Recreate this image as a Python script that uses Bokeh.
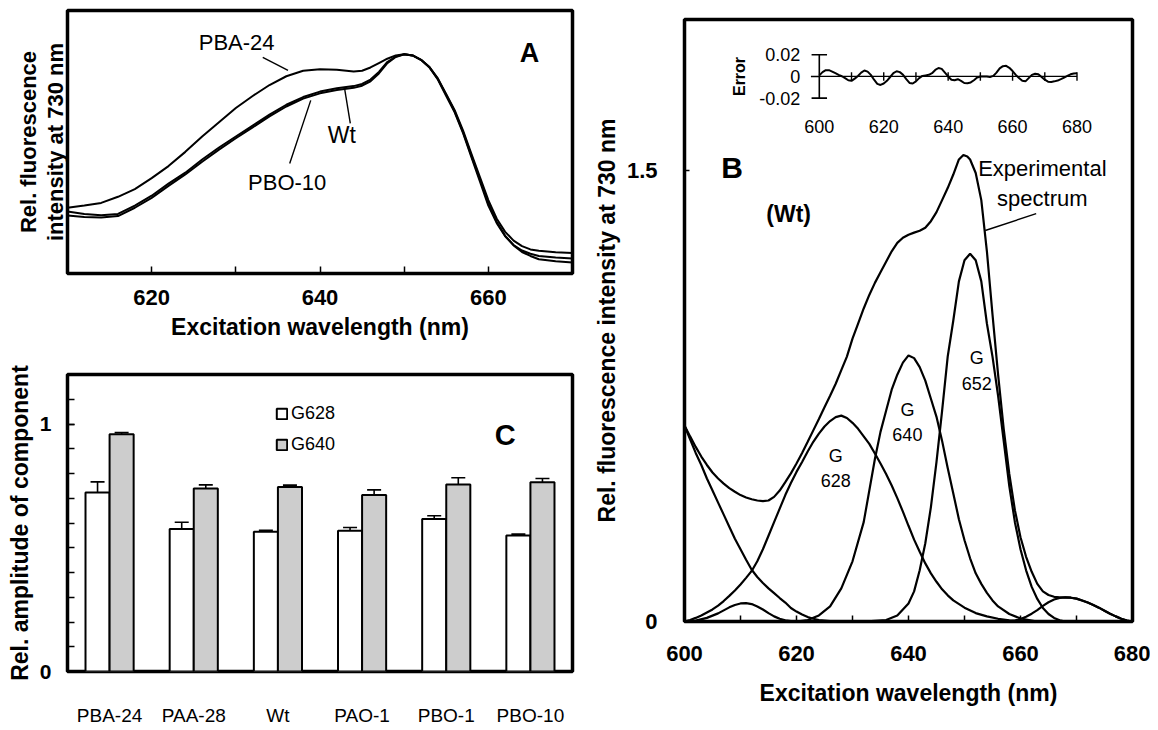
import math
from bokeh.plotting import figure
from bokeh.models import (FixedTicker, Range1d, Legend, LegendItem, Whisker, TeeHead,
                          ColumnDataSource, Title)
from bokeh.layouts import row, column
from bokeh.embed import file_html
from bokeh.resources import INLINE
from bokeh.core.properties import value

FONT = "Liberation Sans"

# ---------------- Panel A data ----------------
a_wl = [610, 612, 614, 616, 618, 620, 622, 624, 626, 628, 630, 632, 634, 636, 638, 640,
        642, 644, 645, 646, 647, 648, 649, 650, 651, 652, 653, 654, 655, 656, 657, 658,
        659, 660, 661, 662, 663, 664, 665, 666, 668, 670]
a_pba24 = [0.30, 0.31, 0.322, 0.35, 0.385, 0.435, 0.49, 0.555, 0.625, 0.69, 0.755, 0.81,
           0.86, 0.90, 0.925, 0.932, 0.93, 0.922, 0.925, 0.94, 0.96, 0.98, 0.995, 1.0,
           0.995, 0.975, 0.942, 0.89, 0.818, 0.745, 0.652, 0.545, 0.44, 0.335, 0.25,
           0.19, 0.15, 0.125, 0.11, 0.104, 0.097, 0.093]
a_wt = [0.283, 0.272, 0.266, 0.272, 0.31, 0.355, 0.41, 0.46, 0.52, 0.575, 0.625, 0.675,
        0.725, 0.77, 0.805, 0.83, 0.845, 0.855, 0.865, 0.885, 0.92, 0.965, 0.99, 1.0,
        0.995, 0.975, 0.94, 0.885, 0.81, 0.735, 0.64, 0.53, 0.42, 0.31, 0.23, 0.17,
        0.13, 0.105, 0.09, 0.08, 0.073, 0.068]
a_pbo10 = [0.265, 0.258, 0.255, 0.262, 0.30, 0.345, 0.40, 0.452, 0.51, 0.565, 0.617,
           0.667, 0.717, 0.762, 0.798, 0.822, 0.837, 0.847, 0.857, 0.877, 0.913, 0.96,
           0.988, 1.0, 0.995, 0.975, 0.942, 0.888, 0.815, 0.74, 0.645, 0.537, 0.43,
           0.32, 0.235, 0.172, 0.128, 0.098, 0.08, 0.065, 0.056, 0.05]
a_ylabel_lines = ["Rel. fluorescence", "intensity at 730 nm"]

# ---------------- Panel B data ----------------
b_exp_wl = [600, 601, 602, 603, 604, 605, 606, 607, 608, 609, 610, 611, 612, 613, 614,
            615, 616, 617, 618, 619, 620, 621, 622, 623, 624, 625, 626, 627, 628, 629,
            630, 631, 632, 633, 634, 635, 636, 637, 638, 639, 640, 641, 642, 643, 644,
            645, 646, 647, 648, 649, 649.8, 650.5, 651, 652, 653, 654, 655, 656, 657,
            658, 659, 660, 661, 662, 663, 664, 665, 666, 667, 668, 669, 670, 671, 672,
            673, 674, 675, 676, 677, 678, 679, 680]
b_exp = [0.651, 0.615, 0.58, 0.548, 0.52, 0.495, 0.475, 0.458, 0.443, 0.431, 0.42, 0.412,
         0.406, 0.402, 0.40, 0.402, 0.414, 0.435, 0.463, 0.492, 0.525, 0.56, 0.597, 0.635,
         0.673, 0.712, 0.75, 0.79, 0.835, 0.88, 0.94, 0.99, 1.04, 1.085, 1.125, 1.16,
         1.195, 1.23, 1.258, 1.275, 1.285, 1.292, 1.298, 1.308, 1.33, 1.36, 1.40, 1.44,
         1.485, 1.535, 1.55, 1.545, 1.535, 1.49, 1.40, 1.23, 1.02, 0.82, 0.64, 0.49,
         0.37, 0.28, 0.215, 0.165, 0.125, 0.10, 0.088, 0.082, 0.08, 0.08, 0.079, 0.076,
         0.07, 0.063, 0.055, 0.046, 0.036, 0.026, 0.017, 0.009, 0.003, 0.0]

b_left_wl = [600, 601, 602, 603, 604, 605, 606, 607, 608, 609, 610, 611, 612, 613, 614,
             615, 616, 617, 618, 619, 620, 621, 622, 623, 624, 626, 628, 640]
b_left = [0.651, 0.605, 0.56, 0.52, 0.475, 0.435, 0.395, 0.355, 0.315, 0.275, 0.24, 0.205,
          0.172, 0.148, 0.128, 0.11, 0.094, 0.078, 0.063, 0.045, 0.033, 0.023, 0.015,
          0.009, 0.005, 0.001, 0.0, 0.0]

b_611_wl = [600, 602, 604, 606, 607, 608, 609, 610, 611, 612, 613, 614, 615, 616, 617,
            618, 619, 620, 625]
b_611 = [0.0, 0.003, 0.012, 0.027, 0.037, 0.047, 0.055, 0.06, 0.061, 0.058, 0.05, 0.04,
         0.028, 0.017, 0.009, 0.004, 0.001, 0.0, 0.0]

b_628_wl = [600, 601, 602, 603, 604, 605, 606, 607, 608, 609, 610, 611, 612, 613, 614,
            615, 616, 617, 618, 619, 620, 621, 622, 623, 624, 625, 626, 627, 628, 629,
            630, 631, 632, 633, 634, 635, 636, 637, 638, 639, 640, 641, 642, 643, 644,
            645, 646, 647, 648, 650, 652, 654, 656, 658, 660]
b_628 = [0.0, 0.005, 0.012, 0.02, 0.03, 0.04, 0.053, 0.068, 0.085, 0.103, 0.123, 0.145,
         0.168, 0.2, 0.24, 0.285, 0.33, 0.375, 0.42, 0.46, 0.497, 0.53, 0.565, 0.597,
         0.624, 0.648, 0.666, 0.679, 0.684, 0.676, 0.66, 0.64, 0.615, 0.59, 0.558, 0.525,
         0.49, 0.452, 0.41, 0.365, 0.318, 0.272, 0.232, 0.193, 0.16, 0.132, 0.107, 0.087,
         0.07, 0.046, 0.028, 0.017, 0.009, 0.004, 0.0]

b_640_wl = [620, 622, 624, 626, 628, 630, 632, 634, 635, 636, 637, 638, 639, 640, 641,
            642, 643, 644, 645, 646, 647, 648, 649, 650, 651, 652, 653, 654, 655, 656,
            658, 660, 663, 668]
b_640 = [0.0, 0.005, 0.02, 0.05, 0.11, 0.2, 0.33, 0.54, 0.63, 0.70, 0.77, 0.82, 0.86,
         0.884, 0.875, 0.845, 0.80, 0.74, 0.68, 0.60, 0.51, 0.425, 0.34, 0.27, 0.21,
         0.16, 0.125, 0.095, 0.07, 0.05, 0.025, 0.01, 0.0, 0.0]

b_652_wl = [632, 636, 638, 640, 641, 642, 643, 644, 645, 646, 647, 648, 649, 650, 651,
            652, 653, 654, 655, 656, 657, 658, 659, 660, 661, 662, 663, 664, 665, 666,
            667, 668, 672]
b_652 = [0.0, 0.005, 0.02, 0.06, 0.10, 0.17, 0.26, 0.38, 0.53, 0.70, 0.88, 1.0, 1.13,
         1.2, 1.222, 1.2, 1.13, 0.99, 0.88, 0.75, 0.60, 0.45, 0.33, 0.24, 0.17, 0.115,
         0.075, 0.045, 0.025, 0.012, 0.004, 0.0, 0.0]

b_669_wl = [656, 658, 659, 660, 661, 662, 663, 664, 665, 666, 667, 668, 669, 670, 671,
            672, 673, 674, 675, 676, 677, 678, 679, 680]
b_669 = [0.0, 0.0, 0.003, 0.008, 0.016, 0.026, 0.038, 0.052, 0.064, 0.073, 0.078, 0.08,
         0.079, 0.076, 0.07, 0.063, 0.055, 0.046, 0.036, 0.026, 0.017, 0.009, 0.003, 0.0]

# inset: fit residual ("Error")
err_wl = [600, 601, 602, 603, 604, 605, 606, 607, 608, 609, 610, 611, 612, 613, 614, 615,
          616, 617, 618, 619, 620, 621, 622, 623, 624, 625, 626, 627, 628, 629, 630, 631,
          632, 633, 634, 635, 636, 637, 638, 639, 640, 641, 642, 643, 644, 645, 646, 647,
          648, 649, 650, 651, 652, 653, 654, 655, 656, 657, 658, 659, 660, 661, 662, 663,
          664, 665, 666, 667, 668, 669, 670, 671, 672, 673, 674, 675, 676, 677, 678, 679, 680]
err_val = [0.0010, 0.0040, 0.0058, 0.0058, 0.0045, 0.0030, 0.0015, 0.0002, -0.0015, -0.0035,
           -0.0040, -0.0020, 0.0005, 0.0035, 0.0055, 0.0045, 0.0015, -0.0030, -0.0068, -0.0078,
           -0.0065, -0.0040, -0.0005, 0.0030, 0.0048, 0.0040, 0.0015, -0.0025, -0.0060, -0.0065,
           -0.0045, -0.0015, 0.0005, 0.0010, 0.0015, 0.0030, 0.0060, 0.0078, 0.0070, 0.0035,
           0.0000, -0.0030, -0.0035, -0.0025, -0.0040, -0.0060, -0.0062, -0.0055, -0.0035, -0.0010,
           0.0000, 0.0000, 0.0000, -0.0005, 0.0005, 0.0035, 0.0075, 0.0095, 0.0098, 0.0080,
           0.0050, 0.0015, -0.0015, -0.0040, -0.0045, -0.0015, 0.0015, 0.0025, 0.0020, -0.0005,
           -0.0030, -0.0048, -0.0050, -0.0045, -0.0038, -0.0025, -0.0010, 0.0005, 0.0020, 0.0028,
           0.0030]
ins_xticks = [600, 610, 620, 630, 640, 650, 660, 670, 680]
ins_xlabels = [600, 620, 640, 660, 680]
ins_yticks = [-0.02, 0, 0.02]
ins_ylabels = ["-0.02", "0", "0.02"]

# ---------------- Panel C data ----------------
categories = ["PBA-24", "PAA-28", "Wt", "PAO-1", "PBO-1", "PBO-10"]
g628 = [0.723, 0.576, 0.565, 0.569, 0.616, 0.549]
g628_err = [0.043, 0.027, 0.006, 0.013, 0.013, 0.006]
g640 = [0.959, 0.739, 0.745, 0.713, 0.756, 0.765]
g640_err = [0.006, 0.015, 0.008, 0.021, 0.027, 0.015]


def style(p):
    p.outline_line_color = "black"
    p.outline_line_width = 3.5
    p.outline_line_alpha = 1.0
    p.xgrid.visible = False
    p.ygrid.visible = False
    p.background_fill_color = "white"
    p.border_fill_color = "white"
    for ax in p.axis:
        ax.axis_line_color = None
        ax.major_label_text_font = FONT
        ax.axis_label_text_font = FONT
        ax.axis_label_text_font_style = "bold"
        ax.major_label_text_font_style = "bold"
        ax.major_label_text_color = "black"
        ax.axis_label_text_color = "black"
        ax.major_tick_out = 0
        ax.minor_tick_out = 0
        ax.major_tick_line_width = 1.5
        ax.minor_tick_line_width = 1.5
        ax.major_tick_line_color = "black"
        ax.minor_tick_line_color = "black"


def txt(p, x, y, s, size, bold=False, align="center", angle=0.0, **kw):
    p.text(x=[x], y=[y], text=[s], text_font=value(FONT), text_font_size=value(size),
           text_font_style="bold" if bold else "normal", text_align=align,
           text_baseline="middle", text_color="black", angle=angle, **kw)


# ================= Panel A =================
pA = figure(width=590, height=343, x_range=Range1d(610, 670), y_range=Range1d(0, 1.2),
            output_backend="svg", toolbar_location=None,
            min_border_left=60, min_border_right=15, min_border_top=10, min_border_bottom=70)
style(pA)
pA.xaxis.ticker = FixedTicker(ticks=[620, 640, 660], minor_ticks=[630, 650])
pA.xaxis.major_tick_in = 7
pA.xaxis.minor_tick_in = 7
pA.xaxis.major_label_text_font_size = "22px"
pA.xaxis.major_label_standoff = 16
pA.xaxis.axis_label = "Excitation wavelength (nm)"
pA.xaxis.axis_label_text_font_size = "23px"
pA.xaxis.axis_label_standoff = 6
pA.yaxis.visible = False
# two-line y label as stacked left titles (first added sits next to the frame)
for line_txt in (a_ylabel_lines[1], a_ylabel_lines[0]):
    pA.add_layout(Title(text=line_txt, align="center", text_font=FONT, text_font_size="22px",
                        text_font_style="bold", text_color="black", standoff=0, offset=0,
                        text_line_height=1.0),
                  "left")

for ys in (a_pba24, a_wt, a_pbo10):
    pA.line(a_wl, ys, line_color="black", line_width=2)

pA.segment(x0=[633.2, 642.9, 638.9], y0=[0.986, 0.849, 0.79],
           x1=[636.2, 643.6, 636.4], y1=[0.927, 0.685, 0.502], line_color="black", line_width=1.4)
txt(pA, 630.1, 1.055, "PBA-24", "22px")
txt(pA, 642.6, 0.63, "Wt", "23px")
txt(pA, 636.1, 0.416, "PBO-10", "22px")
txt(pA, 664.9, 1.005, "A", "27px", bold=True)

# ================= Panel C =================
pC = figure(width=590, height=385, x_range=Range1d(0, 6), y_range=Range1d(0, 1.2),
            output_backend="svg", toolbar_location=None,
            min_border_left=67, min_border_right=18, min_border_top=31, min_border_bottom=54)
style(pC)
n = len(categories)
grp = list(range(n))
srcC = ColumnDataSource(dict(
    xw=[i + 0.357 for i in grp], xg=[i + 0.643 for i in grp],
    g628=g628, g640=g640,
    up628=[v + e for v, e in zip(g628, g628_err)], lo628=[v - e for v, e in zip(g628, g628_err)],
    up640=[v + e for v, e in zip(g640, g640_err)], lo640=[v - e for v, e in zip(g640, g640_err)],
))
r1 = pC.vbar(x="xw", top="g628", width=0.286, bottom=0, source=srcC,
             fill_color="white", line_color="black", line_width=2)
r2 = pC.vbar(x="xg", top="g640", width=0.286, bottom=0, source=srcC,
             fill_color="#cdcdcd", line_color="black", line_width=2)
for up, lo, base in (("up628", "lo628", "xw"), ("up640", "lo640", "xg")):
    w = Whisker(source=srcC, base=base, upper=up, lower=lo, line_width=1.6, line_color="black",
                upper_head=TeeHead(size=14, line_width=1.6, line_color="black"),
                lower_head=TeeHead(size=14, line_width=1.6, line_color="black"))
    pC.add_layout(w)

pC.xaxis.ticker = FixedTicker(ticks=[i + 0.5 for i in grp])
pC.xaxis.major_label_overrides = {i + 0.5: c for i, c in zip(grp, categories)}
pC.xaxis.major_tick_in = 0
pC.xaxis.major_label_text_font_style = "normal"
pC.xaxis.major_label_text_font_size = "19px"
pC.xaxis.major_label_standoff = 33
pC.yaxis.ticker = FixedTicker(ticks=[0, 1], minor_ticks=[round(0.1 * k, 1) for k in range(1, 12)])
pC.yaxis.major_tick_in = 7
pC.yaxis.minor_tick_in = 7
pC.yaxis.major_label_text_font_size = "21px"
pC.yaxis.major_label_standoff = 16
pC.yaxis.axis_label = "Rel. amplitude of component"
pC.yaxis.axis_label_text_font_size = "23px"
pC.yaxis.axis_label_standoff = 4

leg = Legend(items=[LegendItem(label="G628", renderers=[r1]), LegendItem(label="G640", renderers=[r2])],
             location=(208, 216), orientation="vertical", padding=0, margin=0, spacing=10,
             glyph_width=13, glyph_height=13, label_height=20, label_standoff=3,
             label_text_font=FONT, label_text_font_size="18px", label_text_color="black",
             border_line_alpha=0, background_fill_alpha=0)
pC.add_layout(leg)
txt(pC, 5.2, 0.956, "C", "29px", bold=True)

# ================= Panel B =================
pB = figure(width=560, height=711, x_range=Range1d(600, 680), y_range=Range1d(0, 2.0),
            output_backend="svg", toolbar_location=None,
            min_border_left=90, min_border_right=18, min_border_top=19, min_border_bottom=90)
style(pB)
pB.xaxis.ticker = FixedTicker(ticks=[600, 620, 640, 660, 680], minor_ticks=[610, 630, 650, 670])
pB.xaxis.major_tick_in = 6
pB.xaxis.minor_tick_in = 6
pB.xaxis.major_label_text_font_size = "22px"
pB.xaxis.major_label_standoff = 24
pB.xaxis.axis_label = "Excitation wavelength (nm)"
pB.xaxis.axis_label_text_font_size = "23px"
pB.xaxis.axis_label_standoff = 16
pB.yaxis.ticker = FixedTicker(ticks=[0, 1.5])
pB.yaxis.major_tick_in = 5
pB.yaxis.major_label_text_font_size = "22px"
pB.yaxis.major_label_standoff = 27
pB.yaxis.axis_label = "Rel. fluorescence intensity at 730 nm"
pB.yaxis.axis_label_text_font_size = "23px"
pB.yaxis.axis_label_standoff = 4

for xs, ys in ((b_exp_wl, b_exp), (b_left_wl, b_left), (b_611_wl, b_611), (b_628_wl, b_628),
               (b_640_wl, b_640), (b_652_wl, b_652), (b_669_wl, b_669)):
    pB.line(xs, ys, line_color="black", line_width=2.2)

txt(pB, 608.5, 1.508, "B", "30px", bold=True)
txt(pB, 618.6, 1.355, "(Wt)", "23px", bold=True)
txt(pB, 663.9, 1.505, "Experimental", "22px")
txt(pB, 663.9, 1.405, "spectrum", "22px")
pB.segment(x0=[662.8], y0=[1.355], x1=[653.7], y1=[1.299], line_color="black", line_width=1.4)
for gx, gy, lab in ((652.2, 0.874, "652"), (639.8, 0.704, "640"), (627.0, 0.551, "628")):
    txt(pB, gx, gy, "G", "18px")
    txt(pB, gx, gy - 0.082, lab, "18px")

# inset drawn in its own ranges
pB.extra_x_ranges = {"ins": Range1d(558.15, 697.23)}
pB.extra_y_ranges = {"ins": Range1d(-0.5023, 0.0525)}
IK = dict(x_range_name="ins", y_range_name="ins")
x0i = ins_xticks[0]
pB.segment(x0=[x0i], y0=[0], x1=[ins_xticks[-1]], y1=[0], line_color="black", line_width=1.3, **IK)
pB.segment(x0=[x0i], y0=[ins_yticks[0]], x1=[x0i], y1=[ins_yticks[-1]], line_color="black",
           line_width=1.6, **IK)
pB.segment(x0=[x0i - 2.4, x0i - 2.6, x0i - 2.4], y0=ins_yticks,
           x1=[x0i + 2.4, x0i, x0i + 2.4], y1=ins_yticks, line_color="black", line_width=1.6, **IK)
pB.segment(x0=ins_xticks[1:], y0=[-0.004] * (len(ins_xticks) - 1),
           x1=ins_xticks[1:], y1=[0.004] * (len(ins_xticks) - 1), line_color="black", line_width=1.4, **IK)
pB.line(err_wl, err_val, line_color="black", line_width=2, **IK)
pB.text(x=[594.1] * len(ins_yticks), y=ins_yticks, text=ins_ylabels, text_font=value(FONT),
        text_font_size=value("18px"), text_align="right", text_baseline="middle",
        text_color="black", **IK)
pB.text(x=ins_xlabels, y=[-0.0465] * len(ins_xlabels), text=[str(v) for v in ins_xlabels],
        text_font=value(FONT), text_font_size=value("18px"), text_align="center",
        text_baseline="middle", text_color="black", **IK)
pB.text(x=[575.1], y=[0], text=["Error"], text_font=value(FONT), text_font_size=value("16px"),
        text_font_style="bold", text_align="center", text_baseline="middle",
        angle=math.pi / 2, text_color="black", **IK)

layout = row(column(pA, pC), pB)
open("out.html", "w").write(file_html(layout, INLINE))
